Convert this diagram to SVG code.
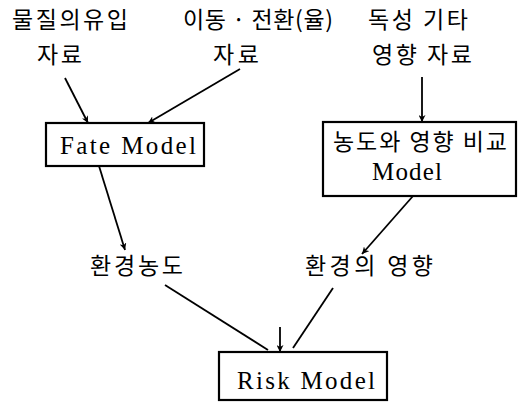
<svg xmlns="http://www.w3.org/2000/svg" width="520" height="405" viewBox="0 0 520 405">
<style>
.k{font-family:"Noto Sans CJK KR","Noto Sans",sans-serif;font-size:23px;fill:#000}
.l{font-family:"Liberation Serif",serif;font-size:25px;fill:#000}
.box{fill:#fff;stroke:#000;stroke-width:2.2}
.c{stroke:#000;stroke-width:1.8;fill:none}
</style>
<defs>
<marker id="ah" viewBox="0 0 10 10" refX="10" refY="5" markerWidth="7" markerHeight="7" markerUnits="userSpaceOnUse" orient="auto">
<path d="M0,0 L10,5 L0,10 L3,5 z" fill="#000"/>
</marker>
</defs>
<g id="src1">
<text class="k" x="12" y="28" textLength="116">물질의유입</text>
<text class="k" x="37" y="63" textLength="45">자료</text>
</g>
<g id="src2">
<text class="k" x="183" y="28" textLength="150">이동 · 전환(율)</text>
<text class="k" x="213" y="63" textLength="46">자료</text>
</g>
<g id="src3">
<text class="k" x="368" y="28" textLength="100">독성 기타</text>
<text class="k" x="372" y="63" textLength="100">영향 자료</text>
</g>
<g id="fate">
<rect class="box" x="46" y="123" width="158" height="43"/>
<text class="l" x="60" y="154" textLength="136">Fate Model</text>
</g>
<g id="compare">
<rect class="box" x="323" y="122" width="193" height="74"/>
<text class="k" x="333" y="150" textLength="174">농도와 영향 비교</text>
<text class="l" x="372" y="180" textLength="70">Model</text>
</g>
<g id="conc">
<text class="k" x="90" y="274" textLength="93">환경농도</text>
</g>
<g id="effect">
<text class="k" x="305" y="274" textLength="128">환경의 영향</text>
</g>
<g id="risk">
<rect class="box" x="219" y="352" width="168" height="48"/>
<text class="l" x="237" y="389" textLength="138">Risk Model</text>
</g>
<g id="connectors">
<line class="c" x1="65" y1="78" x2="88" y2="123" marker-end="url(#ah)"/>
<line class="c" x1="240" y1="69" x2="148" y2="123" marker-end="url(#ah)"/>
<line class="c" x1="422" y1="77" x2="422" y2="122" marker-end="url(#ah)"/>
<line class="c" x1="99" y1="166" x2="125" y2="250" marker-end="url(#ah)"/>
<line class="c" x1="413" y1="196" x2="362" y2="254" marker-end="url(#ah)"/>
<line class="c" x1="165" y1="285" x2="268" y2="350"/>
<line class="c" x1="333" y1="288" x2="293" y2="348"/>
<line class="c" x1="280" y1="327" x2="280" y2="352" marker-end="url(#ah)"/>
</g>
</svg>
